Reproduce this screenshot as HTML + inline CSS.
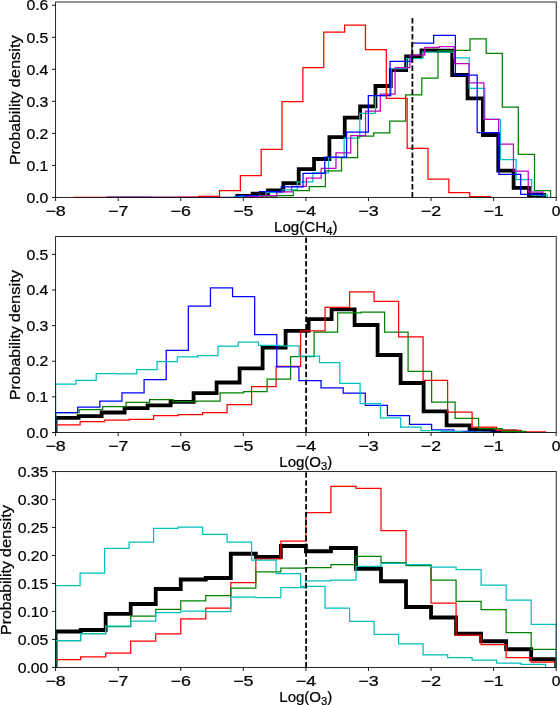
<!DOCTYPE html>
<html><head><meta charset="utf-8"><title>chart</title>
<style>
html,body{margin:0;padding:0;background:#fff;}
body{width:560px;height:705px;position:relative;overflow:hidden;font-family:"Liberation Sans",sans-serif;}
</style></head><body>
<svg width="560" height="705" viewBox="0 0 560 705" style="position:absolute;left:0;top:0;will-change:transform" font-family="Liberation Sans, sans-serif" font-size="14.5" fill="#000"><style>text{stroke:#000;stroke-width:0.22px;}</style>
<rect x="0" y="0" width="560" height="705" fill="#ffffff"/>
<clipPath id="clip1"><rect x="55.60" y="2.00" width="500.60" height="195.40"/></clipPath>
<g clip-path="url(#clip1)">
<path d="M237.30 197.40 L237.30 195.90 L252.65 195.90 L252.65 193.60 L268.00 193.60 L268.00 190.40 L283.35 190.40 L283.35 183.20 L298.70 183.20 L298.70 169.10 L314.05 169.10 L314.05 159.00 L329.40 159.00 L329.40 137.10 L344.75 137.10 L344.75 117.60 L360.10 117.60 L360.10 106.40 L375.45 106.40 L375.45 86.00 L390.80 86.00 L390.80 70.00 L406.15 70.00 L406.15 56.40 L421.50 56.40 L421.50 50.30 L436.85 50.30 L436.85 50.70 L452.20 50.70 L452.20 75.00 L467.55 75.00 L467.55 98.30 L482.90 98.30 L482.90 135.00 L498.25 135.00 L498.25 170.70 L513.60 170.70 L513.60 187.90 L528.95 187.90 L528.95 195.00 L544.30 195.00 L544.30 197.40" fill="none" stroke="#000000" stroke-width="3.8" stroke-linejoin="miter" stroke-linecap="butt"/>
<path d="M234.74 197.40 L234.74 196.50 L250.37 196.50 L250.37 195.50 L266.00 195.50 L266.00 192.50 L281.63 192.50 L281.63 189.80 L297.26 189.80 L297.26 181.80 L312.89 181.80 L312.89 172.90 L328.52 172.90 L328.52 157.50 L344.15 157.50 L344.15 138.20 L359.78 138.20 L359.78 113.30 L375.41 113.30 L375.41 95.50 L391.04 95.50 L391.04 68.60 L406.67 68.60 L406.67 58.60 L422.30 58.60 L422.30 52.10 L437.93 52.10 L437.93 52.10 L453.56 52.10 L453.56 57.90 L469.19 57.90 L469.19 88.40 L484.82 88.40 L484.82 119.30 L500.45 119.30 L500.45 159.60 L516.08 159.60 L516.08 179.60 L531.71 179.60 L531.71 195.00 L547.34 195.00 L547.34 197.40" fill="none" stroke="#00bfbf" stroke-width="1.25" stroke-linejoin="miter" stroke-linecap="butt"/>
<path d="M245.00 197.40 L245.00 196.60 L261.00 196.60 L261.00 196.20 L277.10 196.20 L277.10 195.50 L293.20 195.50 L293.20 190.60 L309.30 190.60 L309.30 186.70 L325.40 186.70 L325.40 170.80 L341.50 170.80 L341.50 157.70 L357.60 157.70 L357.60 136.00 L373.70 136.00 L373.70 132.80 L389.80 132.80 L389.80 121.00 L405.70 121.00 L405.70 94.80 L421.80 94.80 L421.80 78.00 L438.00 78.00 L438.00 50.50 L454.00 50.50 L454.00 50.40 L470.00 50.40 L470.00 38.80 L486.20 38.80 L486.20 53.40 L502.30 53.40 L502.30 107.20 L518.30 107.20 L518.30 154.30 L534.50 154.30 L534.50 190.60 L550.60 190.60 L550.60 197.40" fill="none" stroke="#008000" stroke-width="1.25" stroke-linejoin="miter" stroke-linecap="butt"/>
<path d="M247.22 197.40 L247.22 196.60 L262.01 196.60 L262.01 195.60 L276.80 195.60 L276.80 191.80 L291.59 191.80 L291.59 186.25 L306.38 186.25 L306.38 178.20 L321.17 178.20 L321.17 168.40 L335.96 168.40 L335.96 152.90 L350.75 152.90 L350.75 135.70 L365.54 135.70 L365.54 111.10 L380.33 111.10 L380.33 94.00 L395.12 94.00 L395.12 67.60 L409.91 67.60 L409.91 55.00 L424.70 55.00 L424.70 47.40 L439.49 47.40 L439.49 46.70 L454.28 46.70 L454.28 63.60 L469.07 63.60 L469.07 82.90 L483.86 82.90 L483.86 119.30 L498.65 119.30 L498.65 144.10 L513.44 144.10 L513.44 171.10 L528.23 171.10 L528.23 192.10 L543.02 192.10 L543.02 197.40" fill="none" stroke="#bf00bf" stroke-width="1.25" stroke-linejoin="miter" stroke-linecap="butt"/>
<path d="M107.09 197.40 L107.09 197.00 L128.86 197.00 L128.86 197.00 L150.63 197.00 L150.63 197.40 L172.40 197.40 L172.40 197.40 L194.17 197.40 L194.17 197.40 L215.94 197.40 L215.94 197.40 L237.71 197.40 L237.71 195.70 L259.48 195.70 L259.48 191.70 L281.25 191.70 L281.25 186.80 L303.02 186.80 L303.02 173.40 L324.79 173.40 L324.79 157.10 L346.56 157.10 L346.56 132.10 L368.33 132.10 L368.33 95.70 L390.10 95.70 L390.10 61.40 L411.87 61.40 L411.87 43.10 L433.64 43.10 L433.64 35.40 L455.41 35.40 L455.41 75.00 L477.18 75.00 L477.18 132.50 L498.95 132.50 L498.95 174.30 L520.72 174.30 L520.72 194.30 L542.49 194.30 L542.49 197.40" fill="none" stroke="#0000ff" stroke-width="1.25" stroke-linejoin="miter" stroke-linecap="butt"/>
<path d="M73.55 197.40 L73.55 197.40 L94.40 197.40 L94.40 197.40 L115.25 197.40 L115.25 197.40 L136.10 197.40 L136.10 197.40 L156.95 197.40 L156.95 197.40 L177.80 197.40 L177.80 197.00 L198.65 197.00 L198.65 196.40 L219.50 196.40 L219.50 190.50 L240.35 190.50 L240.35 175.50 L261.20 175.50 L261.20 149.25 L282.05 149.25 L282.05 101.50 L302.90 101.50 L302.90 67.50 L323.75 67.50 L323.75 32.00 L344.60 32.00 L344.60 25.00 L365.45 25.00 L365.45 49.50 L386.30 49.50 L386.30 98.25 L407.15 98.25 L407.15 148.25 L428.00 148.25 L428.00 179.00 L448.85 179.00 L448.85 192.50 L469.70 192.50 L469.70 196.50 L490.55 196.50 L490.55 197.40" fill="none" stroke="#ff0000" stroke-width="1.25" stroke-linejoin="miter" stroke-linecap="butt"/>
<path d="M412.40 197.40 L412.40 17.90" stroke="#000" stroke-width="1.75" stroke-dasharray="5.5 2.4" fill="none"/>
</g>
<rect x="55.60" y="2.00" width="500.60" height="195.40" fill="none" stroke="#000" stroke-width="0.85"/>
<path d="M55.60 197.40 V201.00" stroke="#000" stroke-width="0.9"/>
<text x="55.60" y="215.70" text-anchor="middle" textLength="20.34" lengthAdjust="spacingAndGlyphs">−8</text>
<path d="M118.18 197.40 V201.00" stroke="#000" stroke-width="0.9"/>
<text x="118.18" y="215.70" text-anchor="middle" textLength="20.34" lengthAdjust="spacingAndGlyphs">−7</text>
<path d="M180.75 197.40 V201.00" stroke="#000" stroke-width="0.9"/>
<text x="180.75" y="215.70" text-anchor="middle" textLength="20.34" lengthAdjust="spacingAndGlyphs">−6</text>
<path d="M243.33 197.40 V201.00" stroke="#000" stroke-width="0.9"/>
<text x="243.33" y="215.70" text-anchor="middle" textLength="20.34" lengthAdjust="spacingAndGlyphs">−5</text>
<path d="M305.90 197.40 V201.00" stroke="#000" stroke-width="0.9"/>
<text x="305.90" y="215.70" text-anchor="middle" textLength="20.34" lengthAdjust="spacingAndGlyphs">−4</text>
<path d="M368.48 197.40 V201.00" stroke="#000" stroke-width="0.9"/>
<text x="368.48" y="215.70" text-anchor="middle" textLength="20.34" lengthAdjust="spacingAndGlyphs">−3</text>
<path d="M431.05 197.40 V201.00" stroke="#000" stroke-width="0.9"/>
<text x="431.05" y="215.70" text-anchor="middle" textLength="20.34" lengthAdjust="spacingAndGlyphs">−2</text>
<path d="M493.63 197.40 V201.00" stroke="#000" stroke-width="0.9"/>
<text x="493.63" y="215.70" text-anchor="middle" textLength="20.34" lengthAdjust="spacingAndGlyphs">−1</text>
<path d="M556.20 197.40 V201.00" stroke="#000" stroke-width="0.9"/>
<text x="556.20" y="215.70" text-anchor="middle" textLength="8.78" lengthAdjust="spacingAndGlyphs">0</text>
<path d="M52.00 197.40 H55.60" stroke="#000" stroke-width="0.9"/>
<text x="48.40" y="202.60" text-anchor="end" textLength="21.94" lengthAdjust="spacingAndGlyphs">0.0</text>
<path d="M52.00 165.38 H55.60" stroke="#000" stroke-width="0.9"/>
<text x="48.40" y="170.58" text-anchor="end" textLength="21.94" lengthAdjust="spacingAndGlyphs">0.1</text>
<path d="M52.00 133.36 H55.60" stroke="#000" stroke-width="0.9"/>
<text x="48.40" y="138.56" text-anchor="end" textLength="21.94" lengthAdjust="spacingAndGlyphs">0.2</text>
<path d="M52.00 101.34 H55.60" stroke="#000" stroke-width="0.9"/>
<text x="48.40" y="106.54" text-anchor="end" textLength="21.94" lengthAdjust="spacingAndGlyphs">0.3</text>
<path d="M52.00 69.32 H55.60" stroke="#000" stroke-width="0.9"/>
<text x="48.40" y="74.52" text-anchor="end" textLength="21.94" lengthAdjust="spacingAndGlyphs">0.4</text>
<path d="M52.00 37.30 H55.60" stroke="#000" stroke-width="0.9"/>
<text x="48.40" y="42.50" text-anchor="end" textLength="21.94" lengthAdjust="spacingAndGlyphs">0.5</text>
<path d="M52.00 5.28 H55.60" stroke="#000" stroke-width="0.9"/>
<text x="48.40" y="10.48" text-anchor="end" textLength="21.94" lengthAdjust="spacingAndGlyphs">0.6</text>
<text transform="translate(20.4 165.10) rotate(-90)" text-anchor="start" textLength="73.80" lengthAdjust="spacingAndGlyphs">Probability</text>
<text transform="translate(20.4 87.40) rotate(-90)" text-anchor="start" textLength="52.20" lengthAdjust="spacingAndGlyphs">density</text>
<text x="305.8" y="232.00" text-anchor="middle" textLength="63.6" lengthAdjust="spacingAndGlyphs">Log(CH<tspan font-size="10.8" dy="2.5">4</tspan><tspan dy="-2.5">)</tspan></text>
<clipPath id="clip2"><rect x="55.60" y="236.60" width="500.60" height="195.90"/></clipPath>
<g clip-path="url(#clip2)">
<path d="M55.60 432.50 L55.60 417.90 L78.60 417.90 L78.60 416.10 L101.60 416.10 L101.60 412.50 L124.60 412.50 L124.60 408.20 L147.60 408.20 L147.60 405.40 L170.60 405.40 L170.60 401.80 L193.60 401.80 L193.60 393.20 L216.60 393.20 L216.60 382.50 L239.60 382.50 L239.60 368.30 L262.60 368.30 L262.60 347.60 L285.60 347.60 L285.60 330.80 L308.60 330.80 L308.60 319.20 L331.60 319.20 L331.60 309.40 L354.60 309.40 L354.60 325.00 L377.60 325.00 L377.60 355.00 L400.60 355.00 L400.60 383.00 L423.60 383.00 L423.60 411.40 L446.60 411.40 L446.60 425.40 L469.60 425.40 L469.60 429.60 L492.60 429.60 L492.60 431.40 L515.60 431.40 L515.60 432.50" fill="none" stroke="#000000" stroke-width="3.8" stroke-linejoin="miter" stroke-linecap="butt"/>
<path d="M55.60 432.50 L55.60 424.90 L80.10 424.90 L80.10 421.50 L104.60 421.50 L104.60 420.00 L129.10 420.00 L129.10 419.40 L153.60 419.40 L153.60 415.70 L178.10 415.70 L178.10 414.60 L202.60 414.60 L202.60 412.50 L227.10 412.50 L227.10 404.60 L251.60 404.60 L251.60 386.50 L276.10 386.50 L276.10 366.40 L300.60 366.40 L300.60 330.80 L325.10 330.80 L325.10 307.40 L349.60 307.40 L349.60 291.80 L374.10 291.80 L374.10 301.40 L398.60 301.40 L398.60 336.80 L423.10 336.80 L423.10 380.30 L447.60 380.30 L447.60 412.10 L472.10 412.10 L472.10 427.10 L496.60 427.10 L496.60 430.30 L521.10 430.30 L521.10 431.80 L545.60 431.80 L545.60 432.50" fill="none" stroke="#ff0000" stroke-width="1.25" stroke-linejoin="miter" stroke-linecap="butt"/>
<path d="M55.60 432.50 L55.60 412.50 L79.10 412.50 L79.10 409.70 L102.60 409.70 L102.60 406.50 L126.10 406.50 L126.10 402.40 L149.60 402.40 L149.60 399.60 L173.10 399.60 L173.10 401.50 L196.60 401.50 L196.60 401.10 L220.10 401.10 L220.10 392.80 L243.60 392.80 L243.60 391.60 L267.10 391.60 L267.10 379.00 L290.60 379.00 L290.60 356.70 L314.10 356.70 L314.10 332.10 L337.60 332.10 L337.60 312.80 L361.10 312.80 L361.10 312.10 L384.60 312.10 L384.60 332.10 L408.10 332.10 L408.10 371.40 L431.60 371.40 L431.60 402.20 L455.10 402.20 L455.10 418.30 L478.60 418.30 L478.60 428.60 L502.10 428.60 L502.10 431.40 L525.60 431.40 L525.60 432.50" fill="none" stroke="#008000" stroke-width="1.25" stroke-linejoin="miter" stroke-linecap="butt"/>
<path d="M55.60 432.50 L55.60 412.50 L77.72 412.50 L77.72 407.10 L99.84 407.10 L99.84 401.10 L121.96 401.10 L121.96 392.80 L144.08 392.80 L144.08 379.70 L166.20 379.70 L166.20 350.30 L188.32 350.30 L188.32 306.10 L210.44 306.10 L210.44 287.90 L232.56 287.90 L232.56 296.60 L254.68 296.60 L254.68 334.60 L276.80 334.60 L276.80 366.80 L298.92 366.80 L298.92 380.70 L321.04 380.70 L321.04 387.80 L343.16 387.80 L343.16 393.00 L365.28 393.00 L365.28 405.40 L387.40 405.40 L387.40 415.70 L409.52 415.70 L409.52 424.30 L431.64 424.30 L431.64 429.80 L453.76 429.80 L453.76 431.30 L475.88 431.30 L475.88 432.00 L498.00 432.00 L498.00 432.50" fill="none" stroke="#0000ff" stroke-width="1.25" stroke-linejoin="miter" stroke-linecap="butt"/>
<path d="M55.60 432.50 L55.60 384.20 L75.90 384.20 L75.90 380.40 L96.20 380.40 L96.20 373.70 L116.50 373.70 L116.50 373.90 L136.80 373.90 L136.80 369.60 L157.10 369.60 L157.10 361.50 L177.40 361.50 L177.40 356.80 L197.70 356.80 L197.70 355.70 L218.00 355.70 L218.00 346.10 L238.30 346.10 L238.30 342.20 L258.60 342.20 L258.60 345.40 L278.90 345.40 L278.90 345.80 L299.20 345.80 L299.20 356.10 L319.50 356.10 L319.50 362.50 L339.80 362.50 L339.80 383.30 L360.10 383.30 L360.10 403.50 L380.40 403.50 L380.40 417.90 L400.70 417.90 L400.70 427.10 L421.00 427.10 L421.00 430.70 L441.30 430.70 L441.30 431.50 L461.60 431.50 L461.60 432.00 L481.90 432.00 L481.90 432.50" fill="none" stroke="#00bfbf" stroke-width="1.25" stroke-linejoin="miter" stroke-linecap="butt"/>
<path d="M306.10 432.50 L306.10 236.60" stroke="#000" stroke-width="1.75" stroke-dasharray="5.5 2.4" fill="none"/>
</g>
<rect x="55.60" y="236.60" width="500.60" height="195.90" fill="none" stroke="#000" stroke-width="0.85"/>
<path d="M55.60 432.50 V436.10" stroke="#000" stroke-width="0.9"/>
<text x="55.60" y="450.80" text-anchor="middle" textLength="20.34" lengthAdjust="spacingAndGlyphs">−8</text>
<path d="M118.18 432.50 V436.10" stroke="#000" stroke-width="0.9"/>
<text x="118.18" y="450.80" text-anchor="middle" textLength="20.34" lengthAdjust="spacingAndGlyphs">−7</text>
<path d="M180.75 432.50 V436.10" stroke="#000" stroke-width="0.9"/>
<text x="180.75" y="450.80" text-anchor="middle" textLength="20.34" lengthAdjust="spacingAndGlyphs">−6</text>
<path d="M243.33 432.50 V436.10" stroke="#000" stroke-width="0.9"/>
<text x="243.33" y="450.80" text-anchor="middle" textLength="20.34" lengthAdjust="spacingAndGlyphs">−5</text>
<path d="M305.90 432.50 V436.10" stroke="#000" stroke-width="0.9"/>
<text x="305.90" y="450.80" text-anchor="middle" textLength="20.34" lengthAdjust="spacingAndGlyphs">−4</text>
<path d="M368.48 432.50 V436.10" stroke="#000" stroke-width="0.9"/>
<text x="368.48" y="450.80" text-anchor="middle" textLength="20.34" lengthAdjust="spacingAndGlyphs">−3</text>
<path d="M431.05 432.50 V436.10" stroke="#000" stroke-width="0.9"/>
<text x="431.05" y="450.80" text-anchor="middle" textLength="20.34" lengthAdjust="spacingAndGlyphs">−2</text>
<path d="M493.63 432.50 V436.10" stroke="#000" stroke-width="0.9"/>
<text x="493.63" y="450.80" text-anchor="middle" textLength="20.34" lengthAdjust="spacingAndGlyphs">−1</text>
<path d="M556.20 432.50 V436.10" stroke="#000" stroke-width="0.9"/>
<text x="556.20" y="450.80" text-anchor="middle" textLength="8.78" lengthAdjust="spacingAndGlyphs">0</text>
<path d="M52.00 432.50 H55.60" stroke="#000" stroke-width="0.9"/>
<text x="48.40" y="437.70" text-anchor="end" textLength="21.94" lengthAdjust="spacingAndGlyphs">0.0</text>
<path d="M52.00 396.87 H55.60" stroke="#000" stroke-width="0.9"/>
<text x="48.40" y="402.07" text-anchor="end" textLength="21.94" lengthAdjust="spacingAndGlyphs">0.1</text>
<path d="M52.00 361.24 H55.60" stroke="#000" stroke-width="0.9"/>
<text x="48.40" y="366.44" text-anchor="end" textLength="21.94" lengthAdjust="spacingAndGlyphs">0.2</text>
<path d="M52.00 325.61 H55.60" stroke="#000" stroke-width="0.9"/>
<text x="48.40" y="330.81" text-anchor="end" textLength="21.94" lengthAdjust="spacingAndGlyphs">0.3</text>
<path d="M52.00 289.98 H55.60" stroke="#000" stroke-width="0.9"/>
<text x="48.40" y="295.18" text-anchor="end" textLength="21.94" lengthAdjust="spacingAndGlyphs">0.4</text>
<path d="M52.00 254.35 H55.60" stroke="#000" stroke-width="0.9"/>
<text x="48.40" y="259.55" text-anchor="end" textLength="21.94" lengthAdjust="spacingAndGlyphs">0.5</text>
<text transform="translate(20.4 399.95) rotate(-90)" text-anchor="start" textLength="73.80" lengthAdjust="spacingAndGlyphs">Probability</text>
<text transform="translate(20.4 322.25) rotate(-90)" text-anchor="start" textLength="52.20" lengthAdjust="spacingAndGlyphs">density</text>
<text x="305.8" y="467.10" text-anchor="middle" textLength="53.0" lengthAdjust="spacingAndGlyphs">Log(O<tspan font-size="10.8" dy="2.5">3</tspan><tspan dy="-2.5">)</tspan></text>
<clipPath id="clip3"><rect x="55.60" y="471.60" width="500.60" height="195.80"/></clipPath>
<g clip-path="url(#clip3)">
<path d="M55.60 667.40 L55.60 631.50 L80.63 631.50 L80.63 630.00 L105.66 630.00 L105.66 613.80 L130.69 613.80 L130.69 604.00 L155.72 604.00 L155.72 589.00 L180.75 589.00 L180.75 579.50 L205.78 579.50 L205.78 578.00 L230.81 578.00 L230.81 553.75 L255.84 553.75 L255.84 557.00 L280.87 557.00 L280.87 546.00 L305.90 546.00 L305.90 551.25 L330.93 551.25 L330.93 548.00 L355.96 548.00 L355.96 568.75 L380.99 568.75 L380.99 581.25 L406.02 581.25 L406.02 607.00 L431.05 607.00 L431.05 617.50 L456.08 617.50 L456.08 633.75 L481.11 633.75 L481.11 641.25 L506.14 641.25 L506.14 649.25 L531.17 649.25 L531.17 659.25 L556.20 659.25 L556.20 667.40" fill="none" stroke="#000000" stroke-width="3.8" stroke-linejoin="miter" stroke-linecap="butt"/>
<path d="M55.60 667.40 L55.60 659.60 L80.63 659.60 L80.63 656.80 L105.66 656.80 L105.66 653.10 L130.69 653.10 L130.69 641.10 L155.72 641.10 L155.72 633.80 L180.75 633.80 L180.75 618.75 L205.78 618.75 L205.78 608.00 L230.81 608.00 L230.81 582.50 L255.84 582.50 L255.84 558.75 L280.87 558.75 L280.87 541.00 L305.90 541.00 L305.90 512.50 L330.93 512.50 L330.93 486.25 L355.96 486.25 L355.96 488.25 L380.99 488.25 L380.99 530.50 L406.02 530.50 L406.02 565.00 L431.05 565.00 L431.05 603.00 L456.08 603.00 L456.08 635.00 L481.11 635.00 L481.11 644.50 L506.14 644.50 L506.14 657.50 L531.17 657.50 L531.17 662.00 L556.20 662.00 L556.20 667.40" fill="none" stroke="#ff0000" stroke-width="1.25" stroke-linejoin="miter" stroke-linecap="butt"/>
<path d="M55.60 667.40 L55.60 640.70 L80.63 640.70 L80.63 633.60 L105.66 633.60 L105.66 626.60 L130.69 626.60 L130.69 616.20 L155.72 616.20 L155.72 609.25 L180.75 609.25 L180.75 600.75 L205.78 600.75 L205.78 595.50 L230.81 595.50 L230.81 588.00 L255.84 588.00 L255.84 571.75 L280.87 571.75 L280.87 568.00 L305.90 568.00 L305.90 567.50 L330.93 567.50 L330.93 564.50 L355.96 564.50 L355.96 556.25 L380.99 556.25 L380.99 562.50 L406.02 562.50 L406.02 565.50 L431.05 565.50 L431.05 580.00 L456.08 580.00 L456.08 601.25 L481.11 601.25 L481.11 609.50 L506.14 609.50 L506.14 632.50 L531.17 632.50 L531.17 649.25 L556.20 649.25 L556.20 667.40" fill="none" stroke="#008000" stroke-width="1.25" stroke-linejoin="miter" stroke-linecap="butt"/>
<path d="M55.60 667.40 L55.60 585.60 L80.10 585.60 L80.10 573.10 L104.60 573.10 L104.60 548.25 L129.10 548.25 L129.10 542.00 L153.60 542.00 L153.60 528.25 L178.10 528.25 L178.10 527.00 L202.60 527.00 L202.60 534.25 L227.10 534.25 L227.10 542.00 L251.60 542.00 L251.60 560.00 L276.10 560.00 L276.10 573.50 L300.60 573.50 L300.60 586.25 L325.10 586.25 L325.10 608.10 L349.60 608.10 L349.60 621.25 L374.10 621.25 L374.10 634.25 L398.60 634.25 L398.60 643.75 L423.10 643.75 L423.10 654.75 L447.60 654.75 L447.60 657.50 L472.10 657.50 L472.10 660.00 L496.60 660.00 L496.60 663.00 L521.10 663.00 L521.10 664.25 L545.60 664.25 L545.60 667.40" fill="none" stroke="#00bfbf" stroke-width="1.25" stroke-linejoin="miter" stroke-linecap="butt"/>
<path d="M55.60 667.40 L55.60 640.70 L80.63 640.70 L80.63 633.70 L105.66 633.70 L105.66 626.20 L130.69 626.20 L130.69 621.10 L155.72 621.10 L155.72 612.70 L180.75 612.70 L180.75 611.00 L205.78 611.00 L205.78 611.50 L230.81 611.50 L230.81 597.00 L255.84 597.00 L255.84 597.50 L280.87 597.50 L280.87 587.50 L305.90 587.50 L305.90 580.75 L330.93 580.75 L330.93 580.00 L355.96 580.00 L355.96 566.25 L380.99 566.25 L380.99 563.25 L406.02 563.25 L406.02 564.50 L431.05 564.50 L431.05 567.00 L456.08 567.00 L456.08 569.50 L481.11 569.50 L481.11 585.00 L506.14 585.00 L506.14 600.00 L531.17 600.00 L531.17 624.25 L556.20 624.25 L556.20 667.40" fill="none" stroke="#00bfbf" stroke-width="1.25" stroke-linejoin="miter" stroke-linecap="butt"/>
<path d="M306.10 667.40 L306.10 471.60" stroke="#000" stroke-width="1.75" stroke-dasharray="5.5 2.4" fill="none"/>
</g>
<rect x="55.60" y="471.60" width="500.60" height="195.80" fill="none" stroke="#000" stroke-width="0.85"/>
<path d="M55.60 667.40 V671.00" stroke="#000" stroke-width="0.9"/>
<text x="55.60" y="685.70" text-anchor="middle" textLength="20.34" lengthAdjust="spacingAndGlyphs">−8</text>
<path d="M118.18 667.40 V671.00" stroke="#000" stroke-width="0.9"/>
<text x="118.18" y="685.70" text-anchor="middle" textLength="20.34" lengthAdjust="spacingAndGlyphs">−7</text>
<path d="M180.75 667.40 V671.00" stroke="#000" stroke-width="0.9"/>
<text x="180.75" y="685.70" text-anchor="middle" textLength="20.34" lengthAdjust="spacingAndGlyphs">−6</text>
<path d="M243.33 667.40 V671.00" stroke="#000" stroke-width="0.9"/>
<text x="243.33" y="685.70" text-anchor="middle" textLength="20.34" lengthAdjust="spacingAndGlyphs">−5</text>
<path d="M305.90 667.40 V671.00" stroke="#000" stroke-width="0.9"/>
<text x="305.90" y="685.70" text-anchor="middle" textLength="20.34" lengthAdjust="spacingAndGlyphs">−4</text>
<path d="M368.48 667.40 V671.00" stroke="#000" stroke-width="0.9"/>
<text x="368.48" y="685.70" text-anchor="middle" textLength="20.34" lengthAdjust="spacingAndGlyphs">−3</text>
<path d="M431.05 667.40 V671.00" stroke="#000" stroke-width="0.9"/>
<text x="431.05" y="685.70" text-anchor="middle" textLength="20.34" lengthAdjust="spacingAndGlyphs">−2</text>
<path d="M493.63 667.40 V671.00" stroke="#000" stroke-width="0.9"/>
<text x="493.63" y="685.70" text-anchor="middle" textLength="20.34" lengthAdjust="spacingAndGlyphs">−1</text>
<path d="M556.20 667.40 V671.00" stroke="#000" stroke-width="0.9"/>
<text x="556.20" y="685.70" text-anchor="middle" textLength="8.78" lengthAdjust="spacingAndGlyphs">0</text>
<path d="M52.00 667.40 H55.60" stroke="#000" stroke-width="0.9"/>
<text x="48.40" y="672.60" text-anchor="end" textLength="30.72" lengthAdjust="spacingAndGlyphs">0.00</text>
<path d="M52.00 639.43 H55.60" stroke="#000" stroke-width="0.9"/>
<text x="48.40" y="644.63" text-anchor="end" textLength="30.72" lengthAdjust="spacingAndGlyphs">0.05</text>
<path d="M52.00 611.46 H55.60" stroke="#000" stroke-width="0.9"/>
<text x="48.40" y="616.66" text-anchor="end" textLength="30.72" lengthAdjust="spacingAndGlyphs">0.10</text>
<path d="M52.00 583.49 H55.60" stroke="#000" stroke-width="0.9"/>
<text x="48.40" y="588.69" text-anchor="end" textLength="30.72" lengthAdjust="spacingAndGlyphs">0.15</text>
<path d="M52.00 555.52 H55.60" stroke="#000" stroke-width="0.9"/>
<text x="48.40" y="560.72" text-anchor="end" textLength="30.72" lengthAdjust="spacingAndGlyphs">0.20</text>
<path d="M52.00 527.55 H55.60" stroke="#000" stroke-width="0.9"/>
<text x="48.40" y="532.75" text-anchor="end" textLength="30.72" lengthAdjust="spacingAndGlyphs">0.25</text>
<path d="M52.00 499.58 H55.60" stroke="#000" stroke-width="0.9"/>
<text x="48.40" y="504.78" text-anchor="end" textLength="30.72" lengthAdjust="spacingAndGlyphs">0.30</text>
<path d="M52.00 471.61 H55.60" stroke="#000" stroke-width="0.9"/>
<text x="48.40" y="476.81" text-anchor="end" textLength="30.72" lengthAdjust="spacingAndGlyphs">0.35</text>
<text transform="translate(11.3 634.90) rotate(-90)" text-anchor="start" textLength="73.80" lengthAdjust="spacingAndGlyphs">Probability</text>
<text transform="translate(11.3 557.20) rotate(-90)" text-anchor="start" textLength="52.20" lengthAdjust="spacingAndGlyphs">density</text>
<text x="305.8" y="702.00" text-anchor="middle" textLength="53.0" lengthAdjust="spacingAndGlyphs">Log(O<tspan font-size="10.8" dy="2.5">3</tspan><tspan dy="-2.5">)</tspan></text>
</svg>
</body></html>
